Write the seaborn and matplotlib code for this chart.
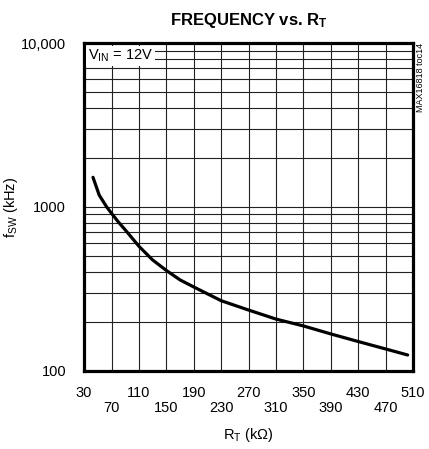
import pandas as pd
import matplotlib
matplotlib.use("Agg")
import matplotlib.pyplot as plt
import seaborn as sns

## Data
rt_kohm = [43, 52, 63, 70, 80, 90, 110, 130, 150, 170, 190, 230, 270, 310, 350, 390, 430, 470, 502]
fsw_khz = [1517, 1183, 1000, 915, 810, 725, 576, 475, 410, 359, 325, 268, 235, 207, 188, 168, 151, 136, 125]

x_ticks = [30, 70, 110, 150, 190, 230, 270, 310, 350, 390, 430, 470, 510]
y_ticks = [100, 1000, 10000]
y_tick_labels = ["100", "1000", "10,000"]

df = pd.DataFrame({"RT": rt_kohm, "fSW": fsw_khz})

sns.set_style("white")
plt.rcParams["font.family"] = ["Liberation Sans", "DejaVu Sans"]
plt.rcParams["mathtext.fontset"] = "custom"
plt.rcParams["mathtext.rm"] = "Liberation Sans"
plt.rcParams["mathtext.bf"] = "Liberation Sans:bold"
plt.rcParams["text.color"] = "black"
plt.rcParams["axes.labelcolor"] = "black"
plt.rcParams["xtick.color"] = "black"
plt.rcParams["ytick.color"] = "black"

fig = plt.figure(figsize=(4.29, 4.49), dpi=100)
ax = fig.add_axes([0.196, 0.174, 0.767, 0.730])

sns.lineplot(data=df, x="RT", y="fSW", ax=ax, color="black", linewidth=2.3)
ax.lines[0].set_solid_joinstyle("round")

ax.set_yscale("log")
ax.set_xlim(30, 510)
ax.set_ylim(100, 10000)

## grid
ax.set_xticks(x_ticks)
ax.set_xticklabels([str(v) if i % 2 == 0 else "\n" + str(v) for i, v in enumerate(x_ticks)],
                   fontsize=10.5, linespacing=1.05)
ax.set_yticks(y_ticks)
ax.set_yticklabels(y_tick_labels, fontsize=10.5)
ax.yaxis.set_minor_locator(matplotlib.ticker.LogLocator(base=10, subs=range(2, 10)))
ax.yaxis.set_minor_formatter(matplotlib.ticker.NullFormatter())
ax.grid(True, which="both", color="#222222", linewidth=0.8)
ax.tick_params(which="both", length=0)
ax.tick_params(axis="x", pad=11)
ax.tick_params(axis="y", pad=13)
for s in ax.spines.values():
    s.set_linewidth(2.3)
    s.set_color("black")

ax.set_xlabel(r"$\mathrm{R_T}$ (kΩ)", fontsize=10.5, labelpad=8)
ax.set_ylabel(r"$\mathrm{f_{SW}}$ (kHz)", fontsize=10.5, labelpad=1)
ax.set_title(r"FREQUENCY vs. $\mathbf{R_T}$", fontsize=12, fontweight="bold", pad=13)

ax.text(0.012, 0.985, r"$\mathrm{V_{IN}}$ = 12V", transform=ax.transAxes, fontsize=10.5,
        va="top", ha="left", bbox=dict(facecolor="white", edgecolor="none", pad=1.5))
fig.text(0.981, 0.904, "MAX16818 toc14", rotation=90, fontsize=6.5, va="top", ha="center")

fig.savefig("out.png", dpi=100)
